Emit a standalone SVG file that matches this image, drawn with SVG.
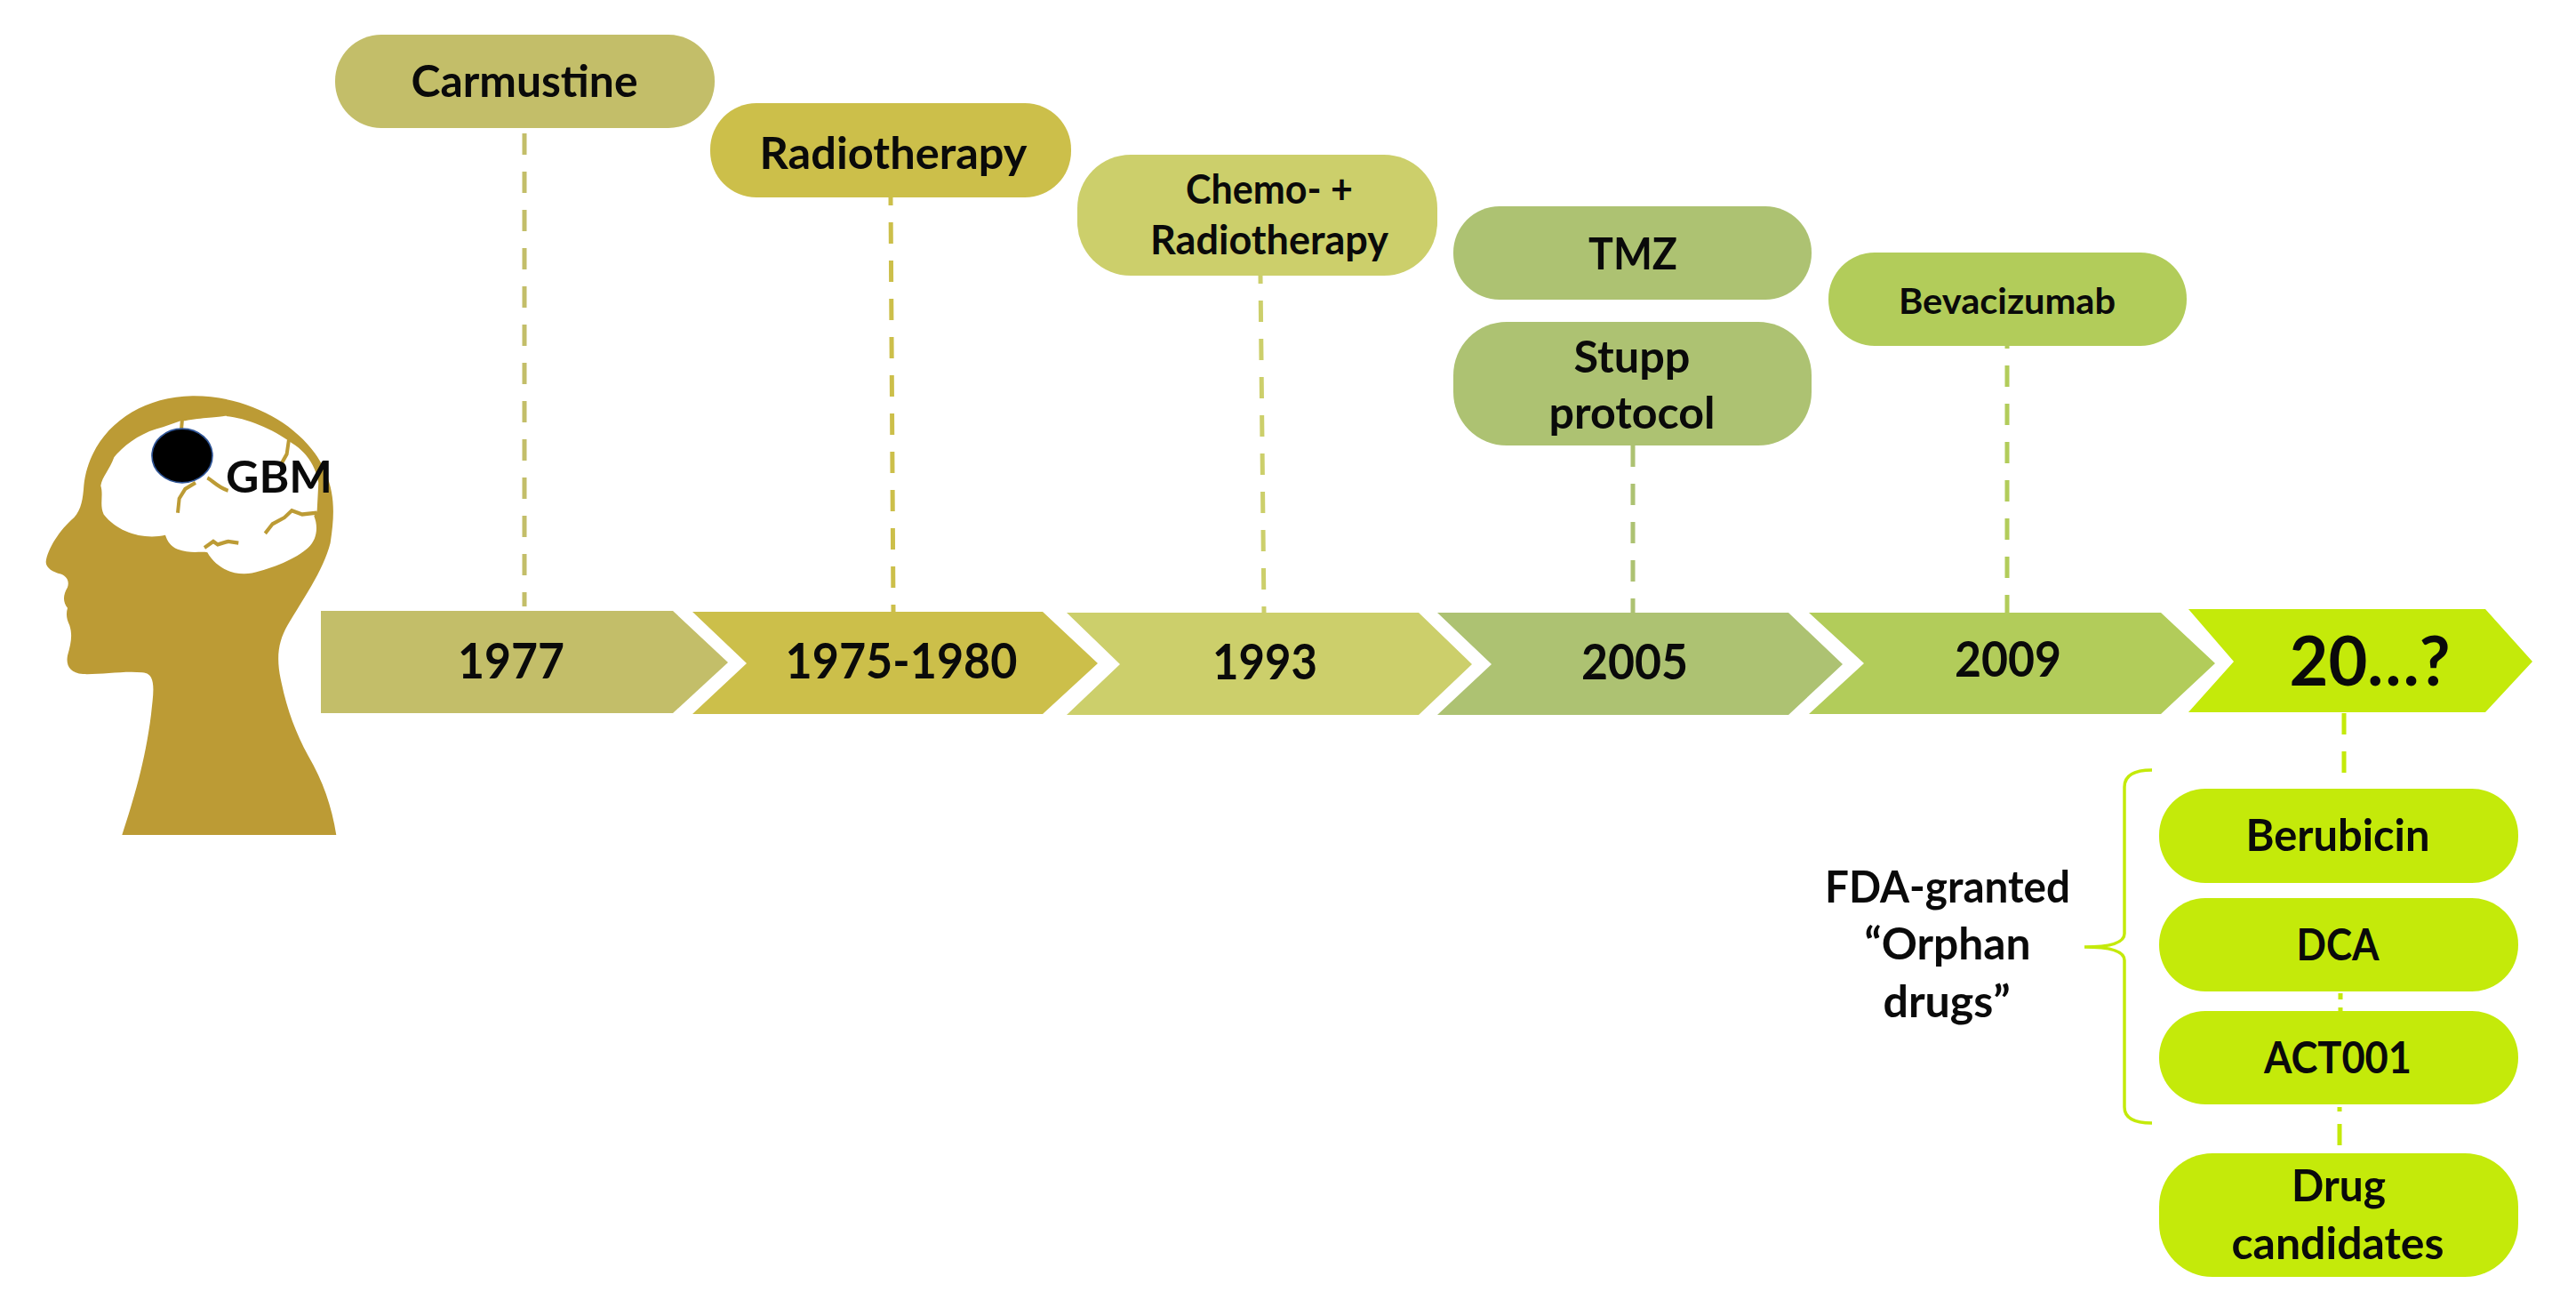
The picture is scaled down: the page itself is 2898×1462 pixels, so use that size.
<svg xmlns="http://www.w3.org/2000/svg" width="2898" height="1462" viewBox="0 0 2898 1462">
<style>
text{font-family:"Lato","Carlito","Liberation Sans",sans-serif;font-weight:700;fill:#0a0a0a;text-anchor:middle}
.t48{font-size:50px}.t44{font-size:46px}.t40{font-size:41px}.t52{font-size:55px}.t72{font-size:77px}
.dash{fill:none;stroke-width:5;stroke-dasharray:24 19}
.c1{fill:#C3BE69}.c2{fill:#CCBF4A}.c3{fill:#CCCF6B}.c4{fill:#ADC272}.c5{fill:#B2CC5A}.c6{fill:#C4EA0A}
</style>
<rect width="2898" height="1462" fill="#fff"/>
<g id="connectors">
<line class="dash" stroke="#C3BE69" x1="590" y1="150" x2="590" y2="682"/>
<line class="dash" stroke="#CCBF4A" x1="1002" y1="222" x2="1005" y2="688" stroke-dashoffset="15"/>
<line class="dash" stroke="#CCCF6B" x1="1418" y1="310" x2="1422" y2="689" stroke-dashoffset="15"/>
<line class="dash" stroke="#ADC272" x1="1837" y1="501" x2="1837" y2="689"/>
<line class="dash" stroke="#B2CC5A" x1="2258" y1="388" x2="2258" y2="689" stroke-dashoffset="20"/>
<line class="dash" stroke="#C4EA0A" x1="2637" y1="802" x2="2637" y2="888"/>
<line class="dash" stroke="#C4EA0A" x1="2633" y1="1117" x2="2633" y2="1140" style="stroke-dasharray:7 9 7"/>
<line class="dash" stroke="#C4EA0A" x1="2632" y1="1245" x2="2632" y2="1300" style="stroke-dasharray:5 14 24 100"/>
<path id="brace" fill="none" stroke="#C4EA0A" stroke-width="3.5" d="M2421 866Q2390 866 2390 885V1050Q2390 1065 2345 1065Q2390 1065 2390 1080V1245Q2390 1263 2421 1263"/>
</g>
<g id="head">
<g transform="translate(0 400) scale(.3333 .357)">
<path fill="#BC9B35" d="M412 1510C450 1400 490 1280 510 1130C518 1060 530 1000 480 998C420 992 340 1005 280 1003C235 1000 222 975 228 945C240 905 245 880 235 850C225 830 222 815 228 795C212 775 212 755 228 730C235 710 225 695 205 688C180 682 155 670 155 650C160 610 200 550 250 510C275 485 280 450 283 410C300 250 450 130 650 127C850 125 1040 230 1100 370C1130 440 1130 500 1115 590C1090 680 1020 770 970 850C940 900 930 950 950 1030C970 1120 1000 1190 1040 1260C1090 1340 1120 1420 1135 1510Z"/>
<path fill="#fff" d="M340 410C345 380 370 360 385 320C420 280 480 240 550 225L610 205L625 205C680 195 740 195 760 190C830 195 920 230 985 275C1030 300 1065 345 1075 400L1070 490L1060 505C1075 540 1070 580 1040 605C1000 640 920 670 850 685C790 695 730 670 700 620C680 615 640 625 600 610C575 600 565 585 558 565C490 580 400 560 350 500C335 470 350 440 340 410Z"/>
<path fill="none" stroke="#BC9B35" stroke-width="12" d="M615 200L612 235M975 265L968 310L950 340M700 385C720 395 735 415 770 425M660 400L625 420L605 450L600 495M1070 495L1020 500L985 488L960 510L920 530L895 560M690 605L720 585L735 595L770 585L805 590"/>
<ellipse cx="615" cy="315" rx="102" ry="85" fill="#000" stroke="#2F5597" stroke-width="5"/>
</g>
<text class="t48" x="314" y="554" textLength="120" lengthAdjust="spacingAndGlyphs">GBM</text>
</g>
<g id="n1977"><path class="c1" d="M361 687H757L819 745L757 802H361Z"/><text class="t52" x="575" y="763" textLength="120" lengthAdjust="spacingAndGlyphs">1977</text></g>
<g id="n1975"><path class="c2" d="M779 688H1173L1235 746L1173 803H779L840 746Z"/><text class="t52" x="1014" y="763" textLength="261" lengthAdjust="spacingAndGlyphs">1975-1980</text></g>
<g id="n1993"><path class="c3" d="M1200 689H1596L1656 747L1596 804H1200L1260 747Z"/><text class="t52" x="1423" y="764" textLength="118" lengthAdjust="spacingAndGlyphs">1993</text></g>
<g id="n2005"><path class="c4" d="M1617 689H2012L2073 747L2012 804H1617L1678 747Z"/><text class="t52" x="1839" y="764" textLength="120" lengthAdjust="spacingAndGlyphs">2005</text></g>
<g id="n2009"><path class="c5" d="M2035 689H2431L2492 746L2431 803H2035L2097 746Z"/><text class="t52" x="2259" y="761" textLength="120" lengthAdjust="spacingAndGlyphs">2009</text></g>
<g id="n20xx"><path class="c6" d="M2462 685H2796L2849 744L2796 801H2462L2513 744Z"/><text class="t72" x="2666" y="771" textLength="181" lengthAdjust="spacingAndGlyphs">20…?</text></g>
<g id="carmustine"><rect class="c1" x="377" y="39" width="427" height="105" rx="52"/><text class="t48" x="590" y="109" textLength="255" lengthAdjust="spacingAndGlyphs">Carmustine</text></g>
<g id="radiotherapy"><rect class="c2" x="799" y="116" width="406" height="106" rx="52"/><text class="t48" x="1005" y="190" textLength="301" lengthAdjust="spacingAndGlyphs">Radiotherapy</text></g>
<g id="chemo"><rect class="c3" x="1212" y="174" width="405" height="136" rx="60"/><text class="t44" x="1428" y="229" textLength="188" lengthAdjust="spacingAndGlyphs">Chemo- +</text><text class="t44" x="1428" y="286" textLength="268" lengthAdjust="spacingAndGlyphs">Radiotherapy</text></g>
<g id="tmz"><rect class="c4" x="1635" y="232" width="403" height="105" rx="52"/><text class="t48" x="1837" y="303" textLength="100" lengthAdjust="spacingAndGlyphs">TMZ</text></g>
<g id="stupp"><rect class="c4" x="1635" y="362" width="403" height="139" rx="60"/><text class="t48" x="1836" y="419" textLength="131" lengthAdjust="spacingAndGlyphs">Stupp</text><text class="t48" x="1836" y="482" textLength="187" lengthAdjust="spacingAndGlyphs">protocol</text></g>
<g id="bevacizumab"><rect class="c5" x="2057" y="284" width="403" height="105" rx="52"/><text class="t40" x="2258" y="353" textLength="244" lengthAdjust="spacingAndGlyphs">Bevacizumab</text></g>
<g id="berubicin"><rect class="c6" x="2429" y="887" width="404" height="106" rx="52"/><text class="t48" x="2630" y="957" textLength="207" lengthAdjust="spacingAndGlyphs">Berubicin</text></g>
<g id="dca"><rect class="c6" x="2429" y="1010" width="404" height="105" rx="52"/><text class="t48" x="2630" y="1080" textLength="93" lengthAdjust="spacingAndGlyphs">DCA</text></g>
<g id="act001"><rect class="c6" x="2429" y="1137" width="404" height="105" rx="52"/><text class="t48" x="2630" y="1207" textLength="166" lengthAdjust="spacingAndGlyphs">ACT001</text></g>
<g id="drug"><rect class="c6" x="2429" y="1297" width="404" height="139" rx="60"/><text class="t48" x="2631" y="1351" textLength="106" lengthAdjust="spacingAndGlyphs">Drug</text><text class="t48" x="2630" y="1416" textLength="239" lengthAdjust="spacingAndGlyphs">candidates</text></g>
<g id="orphan"><text class="t48" x="2191" y="1015" textLength="276" lengthAdjust="spacingAndGlyphs">FDA-granted</text><text class="t48" x="2191" y="1079" textLength="187" lengthAdjust="spacingAndGlyphs">“Orphan</text><text class="t48" x="2190" y="1144" textLength="143" lengthAdjust="spacingAndGlyphs">drugs”</text></g>
</svg>
